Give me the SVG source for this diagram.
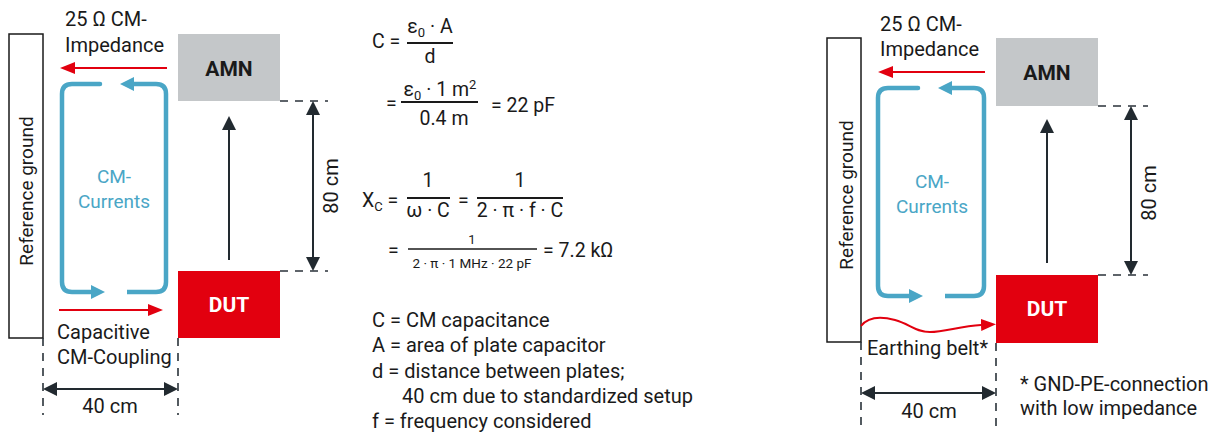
<svg xmlns="http://www.w3.org/2000/svg" width="1218" height="432" viewBox="0 0 1218 432">
<style>
text{font-family:Roboto,"Liberation Sans",sans-serif;fill:#1a1a1a;font-size:20px}
.c{text-anchor:middle}
.blue{fill:#4aa6c6;font-size:19px}
.rg{font-size:19px}
.box{font-weight:bold;font-size:21px;text-anchor:middle}
.gnd{fill:#fff;stroke:#1a1a1a;stroke-width:1.5}
.dash{stroke:#2a323a;stroke-width:1.6;stroke-dasharray:8 7;fill:none}
.dim{stroke:#222a30;stroke-width:2;fill:none}
.red{stroke:#e2000f;stroke-width:2;fill:none}
.loop{stroke:#4aa6c6;stroke-width:4.5;fill:none;stroke-linecap:round}
.fl{stroke:#1a1a1a;stroke-width:2}
.sm{font-size:13px}
.eq{font-size:19.5px}
</style>
<defs>
<marker id="ad" markerUnits="userSpaceOnUse" markerWidth="14" markerHeight="14" refX="0" refY="7" orient="auto-start-reverse"><path d="M0,0 L14,7 L0,14 z" fill="#222a30"/></marker>
<marker id="ar" markerUnits="userSpaceOnUse" markerWidth="15" markerHeight="12" refX="0" refY="6" orient="auto"><path d="M0,0 L15,6 L0,12 z" fill="#e2000f"/></marker>
<marker id="ab" markerUnits="userSpaceOnUse" markerWidth="14" markerHeight="14" refX="0" refY="7" orient="auto"><path d="M0,0 L14,7 L0,14 z" fill="#4aa6c6"/></marker>
</defs>

<!-- LEFT PANEL -->
<g id="refgnd1">
<rect class="gnd" x="9" y="34" width="34" height="304"/>
<text class="c rg" transform="translate(33,191) rotate(-90)">Reference ground</text>
</g>
<g id="amn1">
<rect x="178" y="34" width="102" height="67" fill="#c4c7c9"/>
<text class="box" x="229" y="76">AMN</text>
</g>
<g id="dut1">
<rect x="178" y="271" width="102" height="67" fill="#e2000f"/>
<text class="box" x="229" y="312" style="fill:#fff">DUT</text>
</g>
<g id="labels1">
<text x="65" y="26">25 Ω CM-</text>
<text x="65" y="52">Impedance</text>
<text class="c blue" x="114" y="183">CM-</text>
<text class="c blue" x="114" y="208">Currents</text>
<text x="57" y="339">Capacitive</text>
<text x="57" y="364">CM-Coupling</text>
<text class="c" x="110" y="413">40 cm</text>
<text class="c" transform="translate(338,186) rotate(-90)">80 cm</text>
</g>
<g id="connectors1">
<path class="red" d="M167,68 H75" marker-end="url(#ar)"/>
<path class="red" d="M59,310 H148" marker-end="url(#ar)"/>
<path class="loop" d="M100,84 H72 Q62,84 62,94 V282 Q62,292 72,292 H91" marker-end="url(#ab)"/>
<path class="loop" d="M127,292 H156 Q166,292 166,282 V94 Q166,84 156,84 H134" marker-end="url(#ab)" style="stroke-linecap:butt"/>
<path class="dim" d="M229,260 V130" marker-end="url(#ad)"/>
<path class="dash" d="M280,101 H328 M280,271 H328 M43,338 V415 M178,338 V415"/>
<path class="dim" d="M313,115 V257" marker-start="url(#ad)" marker-end="url(#ad)"/>
<path class="dim" d="M57,389 H164" marker-start="url(#ad)" marker-end="url(#ad)"/>
</g>

<!-- FORMULAS -->
<g id="formulas">
<text class="eq" x="372" y="48">C =</text>
<text class="c eq" x="430" y="33">ε<tspan class="sm" dy="4">0</tspan><tspan dy="-4"> · A</tspan></text>
<line class="fl" x1="407" y1="43" x2="453" y2="43"/>
<text class="c eq" x="430" y="63">d</text>

<text class="eq" x="386" y="110">=</text>
<text class="c eq" x="440" y="96">ε<tspan class="sm" dy="4">0</tspan><tspan dy="-4"> ·  1 m</tspan><tspan class="sm" dy="-7">2</tspan></text>
<line class="fl" x1="401" y1="102" x2="478" y2="102"/>
<text class="c eq" x="444" y="125">0.4 m</text>
<text class="eq" x="491" y="112">=  22 pF</text>

<text class="eq" x="362" y="207">X<tspan class="sm" dy="4">C</tspan><tspan dy="-4"> =</tspan></text>
<text class="c eq" x="428" y="187">1</text>
<line class="fl" x1="407" y1="198" x2="450" y2="198"/>
<text class="c eq" x="428" y="217">ω · C</text>
<text class="eq" x="458" y="207">=</text>
<text class="c eq" x="520" y="187">1</text>
<line class="fl" x1="477" y1="198" x2="563" y2="198"/>
<text class="c eq" x="520" y="217">2 · π · f · C</text>

<text class="eq" x="388" y="257">=</text>
<text class="c sm" x="472" y="244">1</text>
<line class="fl" x1="408" y1="249" x2="537" y2="249" style="stroke-width:1.6"/>
<text class="c" x="472" y="268" style="font-size:13.5px">2 · π · 1 MHz · 22 pF</text>
<text class="eq" x="543" y="257">= 7.2 kΩ</text>

<text x="372" y="327">C = CM capacitance</text>
<text x="372" y="352">A = area of plate capacitor</text>
<text x="372" y="378">d = distance between plates;</text>
<text x="402" y="403">40 cm due to standardized setup</text>
<text x="372" y="428">f = frequency considered</text>
</g>

<!-- RIGHT PANEL -->
<g id="refgnd2">
<rect class="gnd" x="827" y="38" width="34" height="304"/>
<text class="c rg" transform="translate(853,195) rotate(-90)">Reference ground</text>
</g>
<g id="amn2">
<rect x="996" y="38" width="102" height="68" fill="#c4c7c9"/>
<text class="box" x="1047" y="80">AMN</text>
</g>
<g id="dut2">
<rect x="996" y="275" width="102" height="68" fill="#e2000f"/>
<text class="box" x="1047" y="316" style="fill:#fff">DUT</text>
</g>
<g id="labels2">
<text x="880" y="31">25 Ω CM-</text>
<text x="880" y="56">Impedance</text>
<text class="c blue" x="932" y="188">CM-</text>
<text class="c blue" x="932" y="213">Currents</text>
<text x="867" y="355">Earthing belt*</text>
<text class="c" x="929" y="418">40 cm</text>
<text class="c" transform="translate(1156,193) rotate(-90)">80 cm</text>
<text x="1020" y="391">* GND-PE-connection</text>
<text x="1020" y="415">with low impedance</text>
</g>
<g id="connectors2">
<path class="red" d="M985,72 H893" marker-end="url(#ar)"/>
<path class="red" d="M861,326 C868,317 880,316 895,320 C910,324 915,332 930,332 C945,332 960,326 981,325" marker-end="url(#ar)"/>
<path class="loop" d="M918,88 H888 Q878,88 878,98 V286 Q878,296 888,296 H909" marker-end="url(#ab)"/>
<path class="loop" d="M945,296 H974 Q984,296 984,286 V98 Q984,88 974,88 H952" marker-end="url(#ab)" style="stroke-linecap:butt"/>
<path class="dim" d="M1047,263 V133" marker-end="url(#ad)"/>
<path class="dash" d="M1098,106 H1148 M1098,275 H1148 M861,342 V432 M996,343 V432"/>
<path class="dim" d="M1131,120 V261" marker-start="url(#ad)" marker-end="url(#ad)"/>
<path class="dim" d="M875,393 H982" marker-start="url(#ad)" marker-end="url(#ad)"/>
</g>
</svg>
